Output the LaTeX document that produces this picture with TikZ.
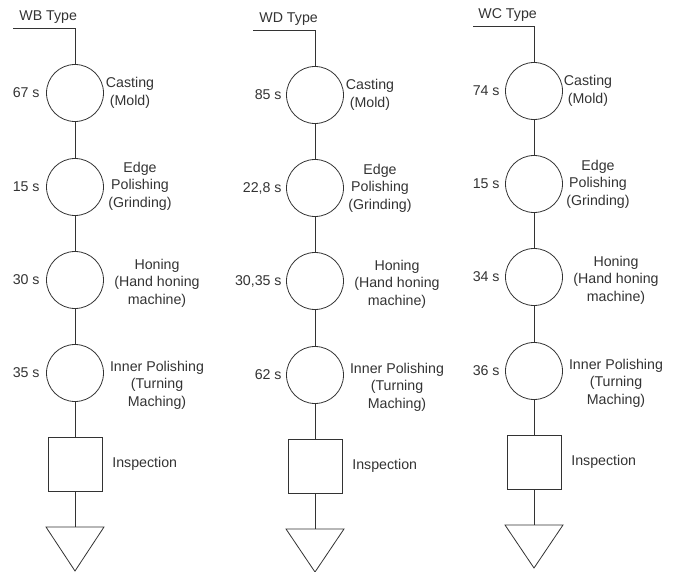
\documentclass[tikz,border=0pt]{standalone}
\usepackage{fontspec}
\setmainfont{Liberation Sans}
\begin{document}
\begin{tikzpicture}[x=1pt,y=-1pt,color=black!80,line width=0.8pt,
  every node/.style={font=\fontsize{14.2}{17.5}\selectfont},
  op/.style={draw,circle,minimum size=57pt,inner sep=0pt},
  insp/.style={draw,rectangle,minimum size=54pt,inner sep=0pt},
  lab/.style={align=center,inner sep=0pt},
  tim/.style={anchor=east,inner sep=0pt},
  ttl/.style={anchor=base west,inner sep=0pt}]
\useasboundingbox (0,0) rectangle (675,572);

% WB type
\node[ttl] (wbt) at (19,21) {WB Type};
\coordinate (wb0) at (13,28);
\path
(75,93) node[op](wb1){}
(75,187) node[op](wb2){}
(75,280) node[op](wb3){}
(75,373) node[op](wb4){}
(75,464) node[insp](wb5){};
\coordinate (wb6) at (75,527);
\path[draw] (wb0)-|(wb1);
\path[draw] (wb1)--(wb2);
\path[draw] (wb2)--(wb3);
\path[draw] (wb3)--(wb4);
\path[draw] (wb4)--(wb5);
\path[draw] (wb5)--(wb6);
\draw (46,527)--(104,527)--(75,571)--cycle;
\node[tim] (wbs1) at (40,93) {67 s};
\node[tim] (wbs2) at (40,187) {15 s};
\node[tim] (wbs3) at (40,280) {30 s};
\node[tim] (wbs4) at (40,373) {35 s};
\node[lab] (wbl1) at (130,93) {Casting\\(Mold)};
\node[lab] (wbl2) at (140,186) {Edge\\Polishing\\(Grinding)};
\node[lab] (wbl3) at (157,283) {Honing\\(Hand honing\\machine)};
\node[lab] (wbl4) at (157,385) {Inner Polishing\\(Turning\\Maching)};
\node[lab,anchor=west] (wbl5) at (112,464) {Inspection};

% WD type
\node[ttl] (wdt) at (259,23) {WD Type};
\coordinate (wd0) at (253,30);
\path
(315,95) node[op](wd1){}
(315,188) node[op](wd2){}
(315,281) node[op](wd3){}
(315,375) node[op](wd4){}
(315,466) node[insp](wd5){};
\coordinate (wd6) at (315,529);
\path[draw] (wd0)-|(wd1);
\path[draw] (wd1)--(wd2);
\path[draw] (wd2)--(wd3);
\path[draw] (wd3)--(wd4);
\path[draw] (wd4)--(wd5);
\path[draw] (wd5)--(wd6);
\draw (286,529)--(344,529)--(315,572)--cycle;
\node[tim] (wds1) at (282,95) {85 s};
\node[tim] (wds2) at (282,188) {22,8 s};
\node[tim] (wds3) at (282,281) {30,35 s};
\node[tim] (wds4) at (282,375) {62 s};
\node[lab] (wdl1) at (370,95) {Casting\\(Mold)};
\node[lab] (wdl2) at (380,188) {Edge\\Polishing\\(Grinding)};
\node[lab] (wdl3) at (397,284) {Honing\\(Hand honing\\machine)};
\node[lab] (wdl4) at (397,387) {Inner Polishing\\(Turning\\Maching)};
\node[lab,anchor=west] (wdl5) at (352,466) {Inspection};

% WC type
\node[ttl] (wct) at (478,19) {WC Type};
\coordinate (wc0) at (473,26);
\path
(534,91) node[op](wc1){}
(534,184) node[op](wc2){}
(534,277) node[op](wc3){}
(534,371) node[op](wc4){}
(534,462) node[insp](wc5){};
\coordinate (wc6) at (534,525);
\path[draw] (wc0)-|(wc1);
\path[draw] (wc1)--(wc2);
\path[draw] (wc2)--(wc3);
\path[draw] (wc3)--(wc4);
\path[draw] (wc4)--(wc5);
\path[draw] (wc5)--(wc6);
\draw (505,525)--(563,525)--(534,568)--cycle;
\node[tim] (wcs1) at (500,91) {74 s};
\node[tim] (wcs2) at (500,184) {15 s};
\node[tim] (wcs3) at (500,277) {34 s};
\node[tim] (wcs4) at (500,371) {36 s};
\node[lab] (wcl1) at (588,91) {Casting\\(Mold)};
\node[lab] (wcl2) at (598,184) {Edge\\Polishing\\(Grinding)};
\node[lab] (wcl3) at (616,280) {Honing\\(Hand honing\\machine)};
\node[lab] (wcl4) at (616,383) {Inner Polishing\\(Turning\\Maching)};
\node[lab,anchor=west] (wcl5) at (571,462) {Inspection};
\end{tikzpicture}
\end{document}
